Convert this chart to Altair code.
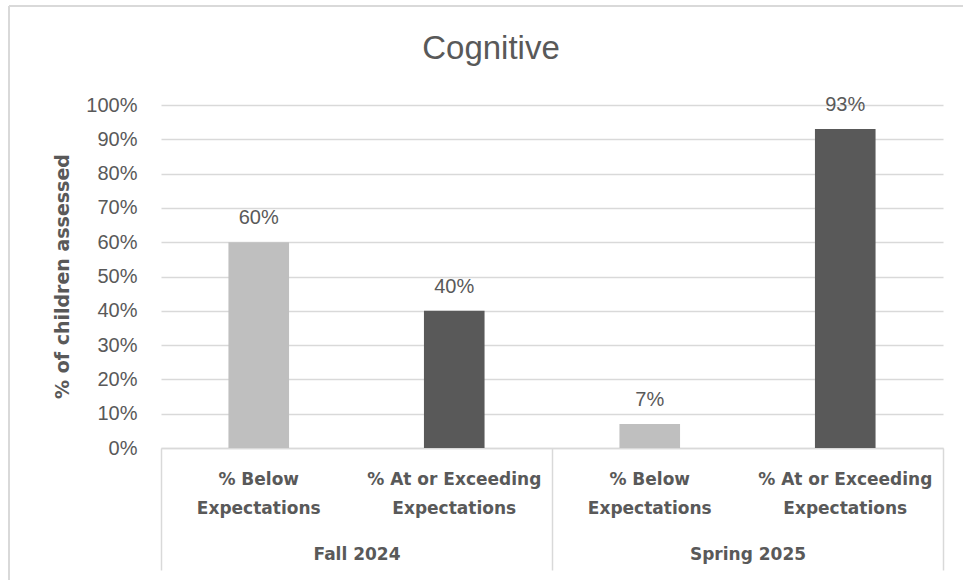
import altair as alt
import pandas as pd

# Assessment results for the Cognitive domain
periods = ["Fall 2024", "Fall 2024", "Spring 2025", "Spring 2025"]
levels = [
    "% Below Expectations",
    "% At or Exceeding Expectations",
    "% Below Expectations",
    "% At or Exceeding Expectations",
]
shares = [0.60, 0.40, 0.07, 0.93]

level_order = ["% Below Expectations", "% At or Exceeding Expectations"]
level_colors = ["#BFBFBF", "#595959"]
period_order = ["Fall 2024", "Spring 2025"]
y_ticks = [0.0, 0.1, 0.2, 0.3, 0.4, 0.5, 0.6, 0.7, 0.8, 0.9, 1.0]

df = pd.DataFrame({"period": periods, "level": levels, "share": shares})
df["slot"] = df["period"] + "|" + df["level"]
slot_order = list(df["slot"])

TEXT = "#595959"
GRID = "#D9D9D9"
REG = "Liberation Sans"
BOLD = "DejaVu Sans"

x_slot = alt.X(
    "slot:N",
    sort=slot_order,
    scale=alt.Scale(paddingInner=0.69, paddingOuter=0.345),
    axis=alt.Axis(
        title=None,
        labelExpr="[replace(split(datum.label, '|')[1], ' Expectations', ''), 'Expectations']",
        labelAngle=0,
        labelFont=BOLD,
        labelFontWeight="bold",
        labelFontSize=17,
        labelColor=TEXT,
        labelLineHeight=29,
        labelPadding=23,
        labelBaseline="top",
        labelOverlap=False,
        labelLimit=300,
        ticks=False,
        domainColor=GRID,
        domainWidth=1.5,
        grid=False,
    ),
)

y_share = alt.Y(
    "share:Q",
    scale=alt.Scale(domain=[0, 1], nice=False),
    axis=alt.Axis(
        title="% of children assessed",
        titleFont=BOLD,
        titleFontWeight="bold",
        titleFontSize=19,
        titleColor=TEXT,
        titleAngle=-90,
        titleX=-99,
        titleY=171,
        titleAlign="center",
        titleBaseline="middle",
        values=y_ticks,
        format=".0%",
        labelFont=REG,
        labelFontSize=20,
        labelColor=TEXT,
        labelPadding=24,
        labelOverlap=False,
        ticks=False,
        domain=False,
        grid=True,
        gridColor=GRID,
        gridWidth=1.5,
    ),
)

base = alt.Chart(df)

bars = base.mark_bar().encode(
    x=x_slot,
    y=y_share,
    color=alt.Color(
        "level:N",
        scale=alt.Scale(domain=level_order, range=level_colors),
        legend=None,
    ),
)

values_text = base.mark_text(
    font=REG, fontSize=20, color=TEXT, baseline="alphabetic", dy=-18
).encode(
    x=x_slot,
    y=y_share,
    text=alt.Text("share:Q", format=".0%"),
)

# Period groups: an empty text layer that carries its own band axis,
# whose extent ticks form the separators between the periods
groups = base.mark_text(text="").encode(
    x=alt.X(
        "period:N",
        sort=period_order,
        scale=alt.Scale(paddingInner=0, paddingOuter=0),
        axis=alt.Axis(
            title=None,
            orient="bottom",
            labelAngle=0,
            labelFont=BOLD,
            labelFontWeight="bold",
            labelFontSize=17,
            labelColor=TEXT,
            labelBaseline="top",
            labelPadding=-24,
            labelOverlap=False,
            ticks=True,
            tickBand="extent",
            tickSize=122,
            tickColor=GRID,
            tickWidth=1.5,
            domain=False,
            grid=False,
        ),
    ),
    y=alt.value(0),
)

frame_df = pd.DataFrame({"edge": [0]})
frame_left = alt.Chart(frame_df).mark_rule(color=GRID, strokeWidth=2).encode(
    x=alt.value(-152), y=alt.value(-99), y2=alt.value(500)
)
frame_top = alt.Chart(frame_df).mark_rule(color=GRID, strokeWidth=2).encode(
    x=alt.value(-152), x2=alt.value(830), y=alt.value(-99)
)

chart = (
    alt.layer(alt.layer(bars, values_text), groups, frame_left, frame_top)
    .resolve_scale(x="independent")
    .properties(
        width=782,
        height=343,
        background="white",
        title=alt.TitleParams(
            "Cognitive",
            font=REG,
            fontSize=33,
            fontWeight="normal",
            color=TEXT,
            anchor="middle",
            dx=-61,
            dy=122,
            baseline="alphabetic",
            offset=35,
        ),
        autosize=alt.AutoSizeParams(type="none"),
        padding={"left": 161, "top": 105, "right": 20, "bottom": 132},
    )
    .configure_view(stroke="transparent", strokeWidth=0)
)

chart.save("out.html", embed_options={"renderer": "svg", "actions": False})
